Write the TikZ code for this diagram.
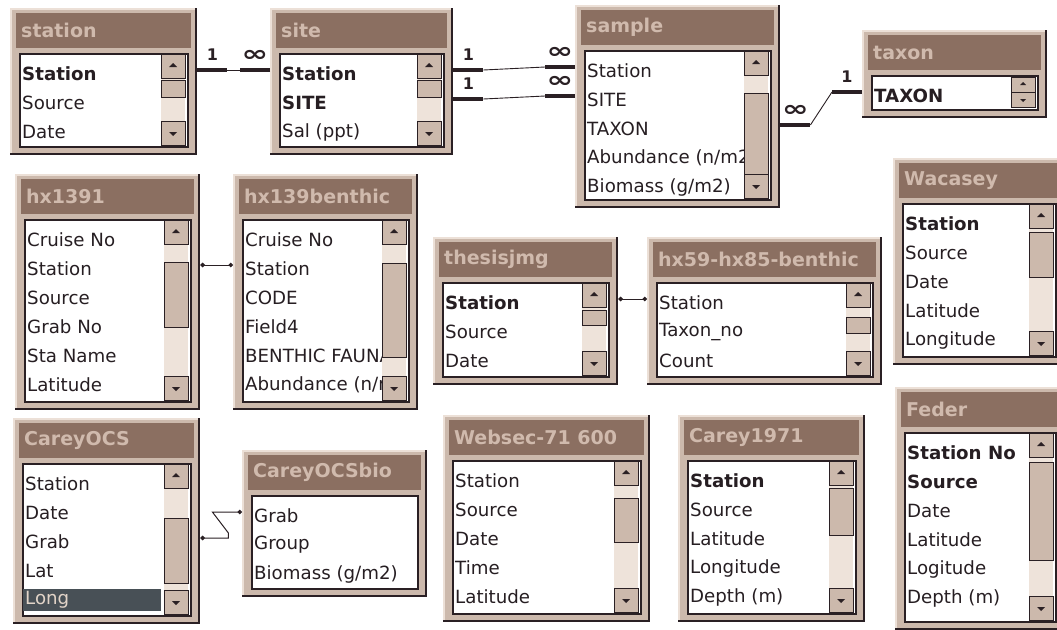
\documentclass[tikz,border=0pt]{standalone}
\usepackage{fontspec}
\setmainfont{DejaVu Sans}
\usetikzlibrary{calc,positioning,arrows.meta}
\definecolor{paneface}{RGB}{204,185,172}
\definecolor{panelight}{RGB}{236,224,215}
\definecolor{paneshade}{RGB}{42,32,36}
\definecolor{titlebar}{RGB}{139,111,97}
\definecolor{titleink}{RGB}{208,186,173}
\definecolor{trackfill}{RGB}{238,227,218}
\definecolor{fieldink}{RGB}{38,30,34}
\definecolor{selbg}{RGB}{72,80,86}
\definecolor{selink}{RGB}{226,212,200}
\tikzset{
  tblframe/.style={fill=paneface, inner sep=0pt},
  tbltitle/.style={fill=titlebar, inner sep=0pt},
  tblname/.style={text=titleink, font=\bfseries\fontsize{19}{19}\selectfont, inner sep=0pt},
  tbllist/.style={fill=white, draw=paneshade, line width=1.5pt, inner sep=0pt},
  fld/.style={text=fieldink, font=\fontsize{18.2}{20}\selectfont, inner sep=0pt, anchor=west},
  sbtn/.style={fill=paneface, draw=paneshade, line width=1pt},
  sarrow/.style={fill=paneshade},
  relbar/.style={line width=3.5pt, paneshade, transform canvas={yshift=4pt}},
  relthin/.style={line width=0.9pt, paneshade, transform canvas={yshift=4pt}},
  plainrel/.style={line width=1pt, paneshade, {Circle[length=4.5pt]}-{Circle[length=4.5pt]},
                   transform canvas={yshift=4pt}},
  onelbl/.style={font=\bfseries\fontsize{16}{16}\selectfont, text=paneshade, inner sep=0pt},
  manylbl/.style={font=\bfseries\fontsize{22}{22}\selectfont, text=paneshade, inner sep=0pt},
}
\newcommand{\manymark}{\scalebox{1.45}[1]{∞}}
% selected field (highlighted row)
\newcommand{\selrow}[1]{{\setlength{\fboxsep}{0pt}\hspace*{-2pt}\colorbox{selbg}{%
  \parbox[c][22pt][c]{138pt}{\hspace*{2pt}\color{selink}#1}}}}
% scroll bar: x0, x1, top, bottom, thumb top, thumb bottom
\newcommand{\dbscroll}[6]{%
  \fill[trackfill] (#1,#3) rectangle (#2,#4);
  \draw[sbtn] (#1,#3) rectangle (#2,#3+24);
  \fill[sarrow] ({(#1+#2)/2},#3+9) -- ++(-4,4) -- ++(8,0) -- cycle;
  \draw[sbtn] (#1,#5) rectangle (#2,#6);
  \draw[sbtn] (#1,#4-24) rectangle (#2,#4);
  \fill[sarrow] ({(#1+#2)/2},#4-9) -- ++(-4,-4) -- ++(8,0) -- cycle;
}
% table window: id, x0, y0, x1, y1, title, fields, thumb top, thumb bottom
\newcommand{\dbtable}[9]{%
  \node[tblframe, anchor=north west, minimum width={#4-#2}, minimum height={#5-#3}] (#1) at (#2,#3) {};
  \draw[panelight, line width=2pt] (#2+1,#5-2) -- (#2+1,#3+1) -- (#4-2,#3+1);
  \draw[paneshade, line width=2pt] (#4-1,#3) -- (#4-1,#5-1) -- (#2,#5-1);
  \node[tbltitle, anchor=north west, minimum width={#4-#2-12}, minimum height=35] (#1-title) at (#2+6,#3+5) {};
  \node[tblname, anchor=west] (#1-head) at ([xshift=5pt]#1-title.west) {#6};
  \node[tbllist, anchor=north west, minimum width={#4-#2-19}, minimum height={#5-#3-54}] (#1-list) at (#2+9,#3+45) {};
  \begin{scope}
    \clip (#2+10,#3+46) rectangle (#4-11,#5-10);
    \foreach \f [count=\i] in {#7}
      \node[fld] (#1-\i) at (#2+12,#3+66+29*\i-29) {\f};
  \end{scope}
  \ifnum#8>0\relax \dbscroll{#4-36}{#4-12}{#3+46}{#5-10}{#8}{#9}\fi
}

\begin{document}
\begin{tikzpicture}[x=1pt,y=-1pt]
  \useasboundingbox (0,0) rectangle (1057,629);
  \clip (0,0) rectangle (1057,629);
  \fill[white] (0,0) rectangle (1057,629);

  % top row
  \dbtable{station}{10}{8}{197}{155}{station}{\textbf{Station}, Source, Date}{80}{97}
  \dbtable{site}{270}{8}{453}{155}{site}{\textbf{Station}, \textbf{SITE}, Sal (ppt)}{80}{97}
  \dbtable{sample}{575}{5}{780}{208}{sample}{Station, SITE, TAXON, Abundance (n/m2), Biomass (g/m2)}{93}{174}
  \dbtable{taxon}{862}{30}{1047}{118}{taxon}{\textbf{TAXON}}{0}{0}
  \draw[sbtn] (1011,77) rectangle (1035,92);
  \fill[sarrow] (1023,82) -- ++(-3,3) -- ++(6,0) -- cycle;
  \draw[sbtn] (1011,92) rectangle (1035,107);
  \fill[sarrow] (1023,102) -- ++(-3,-3) -- ++(6,0) -- cycle;

  % middle row
  \dbtable{hx1391}{15}{174}{200}{410}{hx1391}{Cruise No, Station, Source, Grab No, Sta Name, Latitude}{262}{327}
  \dbtable{hx139benthic}{233}{174}{418}{410}{hx139benthic}{Cruise No, Station, CODE, Field4, BENTHIC FAUNA, Abundance (n/m2)}{263}{357}
  \dbtable{thesisjmg}{433}{237}{618}{385}{thesisjmg}{\textbf{Station}, Source, Date}{310}{325}
  \dbtable{hx59}{647}{237}{882}{385}{hx59-hx85-benthic}{Station, Taxon\_no, Count}{317}{333}
  \dbtable{Wacasey}{893}{158}{1065}{365}{Wacasey}{\textbf{Station}, Source, Date, Latitude, Longitude}{232}{277}

  % bottom row
  \dbtable{CareyOCS}{13}{418}{200}{624}{CareyOCS}{Station, Date, Grab, Lat, \selrow{Long}}{518}{583}
  \dbtable{CareyOCSbio}{242}{450}{427}{597}{CareyOCSbio}{Grab, Group, Biomass (g/m2)}{0}{0}
  \dbtable{Websec}{443}{415}{650}{622}{Websec-71 600}{Station, Source, Date, Time, Latitude}{498}{542}
  \dbtable{Carey1971}{678}{415}{865}{622}{Carey1971}{\textbf{Station}, Source, Latitude, Longitude, Depth (m)}{488}{535}
  \dbtable{Feder}{895}{387}{1065}{630}{Feder}{\textbf{Station No}, \textbf{Source}, Date, Latitude, Logitude, Depth (m)}{462}{560}

  % one-to-many joins
  \draw[relbar] (station.east |- station-1) -- ++(30,0) coordinate (stsi-a)
    node[onelbl, midway, above=8pt] (stsi-one) {1};
  \draw[relbar] (site.west |- site-1) -- ++(-30,0) coordinate (stsi-b)
    node[manylbl, midway, above=7pt] (stsi-many) {\manymark};
  \draw[relthin] (stsi-a) -- (stsi-b);

  \draw[relbar] (site.east |- site-1) -- ++(30,0) coordinate (sism-a)
    node[onelbl, midway, above=8pt] (sism-one) {1};
  \draw[relbar] (sample.west |- sample-1) -- ++(-30,0) coordinate (sism-b)
    node[manylbl, midway, above=7pt] (sism-many) {\manymark};
  \draw[relthin] (sism-a) -- (sism-b);

  \draw[relbar] (site.east |- site-2) -- ++(30,0) coordinate (sism-c)
    node[onelbl, midway, above=8pt] (sism-one2) {1};
  \draw[relbar] (sample.west |- sample-2) -- ++(-30,0) coordinate (sism-d)
    node[manylbl, midway, above=7pt] (sism-many2) {\manymark};
  \draw[relthin] (sism-c) -- (sism-d);

  \draw[relbar] (sample.east |- sample-3) -- ++(30,0) coordinate (smtx-a)
    node[manylbl, midway, above=7pt] (smtx-many) {\manymark};
  \draw[relbar] (taxon.west |- taxon-1) -- ++(-30,0) coordinate (smtx-b)
    node[onelbl, midway, above=8pt] (smtx-one) {1};
  \draw[relthin] (smtx-a) -- (smtx-b);

  % plain joins
  \draw[plainrel] (hx1391.east |- hx1391-2) -- (hx139benthic.west |- hx139benthic-2);
  \draw[plainrel] (thesisjmg.east |- thesisjmg-1) -- (hx59.west |- hx59-1);
  \draw[plainrel] (CareyOCS.east |- CareyOCS-3) -- ++(28,0) -- ++(0,-5) -- ++(-16,-21)
    -- (CareyOCSbio.west |- CareyOCSbio-1);
\end{tikzpicture}
\end{document}
